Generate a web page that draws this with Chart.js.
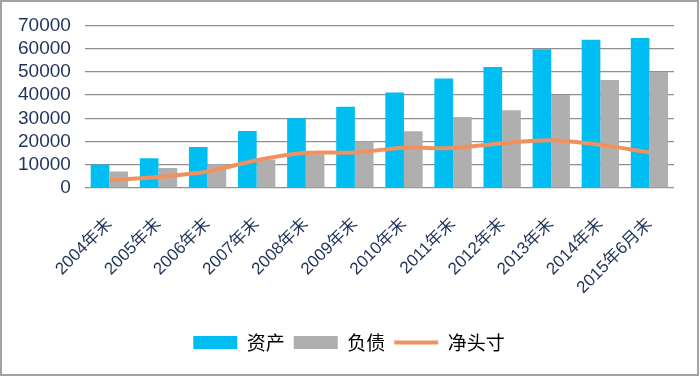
<!DOCTYPE html>
<html>
<head>
<meta charset="utf-8">
<script src="https://cdn.jsdelivr.net/npm/chart.js@4"></script>
<style>
  html, body { margin: 0; padding: 0; background: #fff; }
  #wrap { position: relative; width: 700px; height: 376px; }
  #frame {
    position: absolute; left: 0; top: 0; width: 695px; height: 372px;
    border: 2px solid #a3a3a3; pointer-events: none;
  }
</style>
</head>
<body>
<div id="wrap">
  <canvas id="chart" width="700" height="376"></canvas>
  <div id="frame"></div>
</div>
<script>
// 资产 / 负债 / 净头寸, year-end values
const categories = ['2004年末', '2005年末', '2006年末', '2007年末', '2008年末', '2009年末',
    '2010年末', '2011年末', '2012年末', '2013年末', '2014年末', '2015年6月末'];
const assets = [10200, 12800, 17700, 24600, 30100, 35000, 41100, 47200, 52100, 59700, 63800, 64600];
const liabilities = [7100, 8600, 10300, 12300, 14600, 20000, 24500, 30600, 33500, 40100, 46500, 50000];
const netPosition = [3400, 4800, 7100, 12000, 15200, 15300, 17400, 17200, 19300, 20600, 18600, 15300];

const tickColor = '#1f3358';
const gridColor = '#8f8f8f';

// padding is lopsided, so nudge the legend back to the centre of the picture
const legendShift = {
    id: 'legendShift',
    afterLayout(chart) {
        chart.legend.left += 10;
        chart.legend.right += 10;
    }
};

new Chart(document.getElementById('chart'), {
    type: 'bar',
    data: {
        labels: categories,
        datasets: [
            {
                type: 'line',
                label: '净头寸',
                data: netPosition,
                borderColor: '#f0915f',
                backgroundColor: '#f0915f',
                borderWidth: 4,
                pointRadius: 0,
                pointStyle: 'line',
                tension: 0.3,
                order: 0
            },
            {
                label: '资产',
                data: assets,
                backgroundColor: '#00bef2',
                borderWidth: 0,
                pointStyle: 'rect',
                order: 1
            },
            {
                label: '负债',
                data: liabilities,
                backgroundColor: '#afafaf',
                borderWidth: 0,
                pointStyle: 'rect',
                order: 2
            }
        ]
    },
    plugins: [legendShift],
    options: {
        responsive: false,
        animation: false,
        categoryPercentage: 0.76,
        barPercentage: 1,
        layout: {
            padding: { top: 14, bottom: 14, left: 4, right: 26 }
        },
        plugins: {
            tooltip: { enabled: false },
            legend: {
                position: 'bottom',
                labels: {
                    usePointStyle: true,
                    pointStyleWidth: 44,
                    boxHeight: 13,
                    padding: 9,
                    color: '#000',
                    font: { family: '"Noto Sans CJK SC"', size: 19 },
                    sort: (a, b) => [1, 2, 0].indexOf(a.datasetIndex) - [1, 2, 0].indexOf(b.datasetIndex)
                }
            }
        },
        scales: {
            y: {
                min: 0,
                max: 70000,
                border: { display: false },
                grid: { color: gridColor, lineWidth: 1.3, drawTicks: false },
                ticks: {
                    stepSize: 10000,
                    autoSkip: false,
                    color: tickColor,
                    padding: 14,
                    callback: v => String(v),
                    font: { family: '"Liberation Sans"', size: 19 }
                }
            },
            x: {
                border: { display: false },
                grid: { display: false, drawTicks: false },
                ticks: {
                    color: tickColor,
                    minRotation: 45,
                    maxRotation: 45,
                    autoSkip: false,
                    padding: 26,
                    font: { family: '"Liberation Sans", "Noto Sans CJK SC"', size: 17 }
                }
            }
        }
    }
});
</script>
</body>
</html>
